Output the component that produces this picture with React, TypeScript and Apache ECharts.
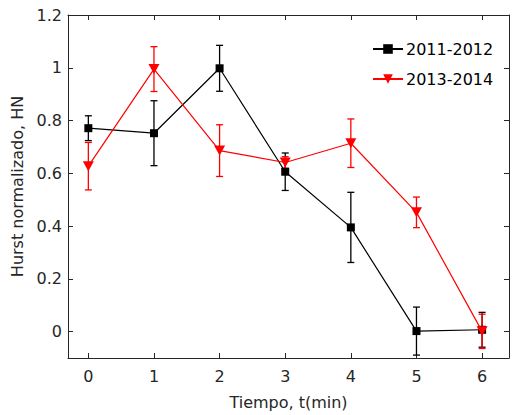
import React, { useEffect, useRef } from "react";
import * as echarts from "echarts";

const times = [0, 1, 2, 3, 4, 5, 6];
const hn2011 = [0.771, 0.752, 0.998, 0.606, 0.395, 0.002, 0.007];
const err2011 = [0.047, 0.123, 0.087, 0.071, 0.133, 0.091, 0.066];
const hn2013 = [0.627, 0.995, 0.686, 0.641, 0.714, 0.452, 0.001];
const err2013 = [0.09, 0.085, 0.098, 0.022, 0.092, 0.058, 0.065];
const xTicks = [0, 1, 2, 3, 4, 5, 6];
const yTicks = [0, 0.2, 0.4, 0.6, 0.8, 1, 1.2];
const seriesNames = ["2011-2012", "2013-2014"];

const FONT = "DejaVu Sans";
const AXIS_COLOR = "#262626";

function errorSeries(values: number[], errs: number[], color: string) {
  return {
    type: "custom",
    xAxisIndex: 0,
    yAxisIndex: 0,
    silent: true,
    z: 3,
    data: times.map((t, i) => [t, values[i] - errs[i], values[i] + errs[i]]),
    renderItem: (params: any, api: any) => {
      const x = api.value(0);
      const lo = api.coord([x, api.value(1)]);
      const hi = api.coord([x, api.value(2)]);
      const cap = 3.5;
      const style = { stroke: color, lineWidth: 1.3, fill: "none" };
      return {
        type: "group",
        children: [
          { type: "line", shape: { x1: lo[0], y1: lo[1], x2: hi[0], y2: hi[1] }, style },
          { type: "line", shape: { x1: lo[0] - cap, y1: lo[1], x2: lo[0] + cap, y2: lo[1] }, style },
          { type: "line", shape: { x1: hi[0] - cap, y1: hi[1], x2: hi[0] + cap, y2: hi[1] }, style },
        ],
      };
    },
  };
}

export default function App() {
  const ref = useRef<HTMLDivElement>(null);
  useEffect(() => {
    if (!ref.current) return;
    const chart = echarts.init(ref.current, undefined, { renderer: "svg" });
    const axisLine = { show: true, onZero: false, lineStyle: { color: AXIS_COLOR, width: 1 } };
    chart.setOption({
      animation: false,
      backgroundColor: "#ffffff",
      textStyle: { fontFamily: FONT },
      grid: { left: 68, right: 3, top: 15, bottom: 57, containLabel: false },
      legend: {
        orient: "vertical",
        left: 367,
        top: 36,
        itemWidth: 30,
        itemHeight: 12,
        itemGap: 14,
        textStyle: { fontFamily: FONT, fontSize: 16, color: "#000", padding: [0, 0, 0, -2] },
        data: seriesNames,
      },
      xAxis: [
        {
          type: "value",
          min: -0.31,
          max: 6.41,
          axisLine,
          splitLine: { show: false },
          axisTick: { show: true, inside: true, length: 5, customValues: xTicks, lineStyle: { color: AXIS_COLOR } },
          axisLabel: {
            show: true,
            customValues: xTicks,
            margin: 10,
            fontSize: 16,
            fontFamily: FONT,
            color: AXIS_COLOR,
          },
          name: "Tiempo, t(min)",
          nameLocation: "middle",
          nameGap: 36,
          nameTextStyle: { fontSize: 16, fontFamily: FONT, color: AXIS_COLOR },
        },
        {
          type: "value",
          position: "top",
          min: -0.31,
          max: 6.41,
          axisLine,
          splitLine: { show: false },
          axisTick: { show: true, inside: true, length: 5, customValues: xTicks, lineStyle: { color: AXIS_COLOR } },
          axisLabel: { show: false },
        },
      ],
      yAxis: [
        {
          type: "value",
          min: -0.1,
          max: 1.2,
          axisLine,
          splitLine: { show: false },
          axisTick: { show: true, inside: true, length: 5, customValues: yTicks, lineStyle: { color: AXIS_COLOR } },
          axisLabel: {
            show: true,
            customValues: yTicks,
            margin: 6,
            fontSize: 16,
            fontFamily: FONT,
            color: AXIS_COLOR,
          },
          name: "Hurst normalizado, HN",
          nameLocation: "middle",
          nameGap: 39,
          nameRotate: 90,
          nameTextStyle: { fontSize: 16, fontFamily: FONT, color: AXIS_COLOR },
        },
        {
          type: "value",
          position: "right",
          min: -0.1,
          max: 1.2,
          axisLine,
          splitLine: { show: false },
          axisTick: { show: true, inside: true, length: 5, customValues: yTicks, lineStyle: { color: AXIS_COLOR } },
          axisLabel: { show: false },
        },
      ],
      series: [
        errorSeries(hn2011, err2011, "#000000"),
        errorSeries(hn2013, err2013, "#ff0000"),
        {
          name: seriesNames[0],
          type: "line",
          xAxisIndex: 0,
          yAxisIndex: 0,
          data: times.map((t, i) => [t, hn2011[i]]),
          symbol: "rect",
          symbolSize: 8,
          lineStyle: { color: "#000000", width: 1.2 },
          itemStyle: { color: "#000000" },
          z: 4,
        },
        {
          name: seriesNames[1],
          type: "line",
          xAxisIndex: 0,
          yAxisIndex: 0,
          data: times.map((t, i) => [t, hn2013[i]]),
          symbol: "triangle",
          symbolRotate: 180,
          symbolSize: [11, 10],
          lineStyle: { color: "#ff0000", width: 1.2 },
          itemStyle: { color: "#ff0000" },
          z: 5,
        },
      ],
    });
    return () => chart.dispose();
  }, []);
  return <div ref={ref} style={{ width: 512, height: 415, position: "absolute", left: 0, top: 0 }} />;
}
